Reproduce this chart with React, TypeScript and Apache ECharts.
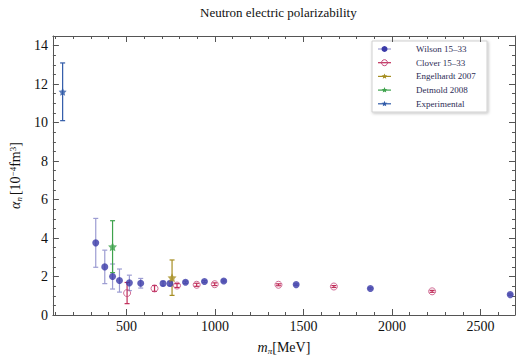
import React, { useEffect, useRef } from "react";
import * as echarts from "echarts";

const wilsonX = [327, 378, 422, 461, 517, 581, 707, 746, 834, 941, 1050, 1459, 1878, 2668];
const wilsonY = [3.75, 2.5, 2.0, 1.79, 1.67, 1.65, 1.64, 1.64, 1.7, 1.74, 1.77, 1.58, 1.38, 1.06];
const wilsonErr = [1.27, 0.87, 0.65, 0.6, 0.4, 0.25, 0.12, 0.12, 0.06, 0.05, 0.05, 0.04, 0.04, 0.04];
const cloverX = [504, 659, 786, 897, 999, 1359, 1672, 2227];
const cloverY = [1.14, 1.38, 1.53, 1.57, 1.6, 1.57, 1.48, 1.23];
const cloverErr = [0.55, 0.15, 0.1, 0.08, 0.07, 0.05, 0.05, 0.05];
const engelhardtX = [758];
const engelhardtY = [1.94];
const engelhardtErr = [0.92];
const detmoldX = [422];
const detmoldY = [3.55];
const detmoldErr = [1.35];
const expX = [140];
const expY = [11.6];
const expErr = [1.5];

const xMajor = [500, 1000, 1500, 2000, 2500];
const xMinor = [100, 200, 300, 400, 600, 700, 800, 900, 1100, 1200, 1300, 1400, 1600, 1700, 1800, 1900, 2100, 2200, 2300, 2400, 2600];
const yMajor = [0, 2, 4, 6, 8, 10, 12, 14];
const yMinor = [0.5, 1, 1.5, 2.5, 3, 3.5, 4.5, 5, 5.5, 6.5, 7, 7.5, 8.5, 9, 9.5, 10.5, 11, 11.5, 12.5, 13, 13.5];

const legendNames = ["Wilson 15\u201333", "Clover 15\u201333", "Engelhardt 2007", "Detmold 2008", "Experimental"];

const FONT = '"Liberation Serif", "DejaVu Serif", serif';
const FRAME = "#555555";

const C_WILSON = "#3a3aa8";
const C_WILSON_BAR = "#9c9cd2";
const C_CLOVER = "#c4487c";
const C_CLOVER_BAR = "#c02c58";
const C_ENG = "#a68e22";
const C_DET = "#3ea24c";
const C_EXP = "#2f5aa8";

const STAR = "path://M0,-10 L2.9,-4 L9.5,-3.1 L4.7,1.5 L5.9,8.1 L0,5 L-5.9,8.1 L-4.7,1.5 L-9.5,-3.1 L-2.9,-4 Z";

function zip3(x: number[], y: number[], e: number[]) {
  return x.map((v, i) => [v, y[i], e[i]]);
}

function errSeries(name: string, data: number[][], color: string) {
  return {
    type: "custom",
    name: name + " err",
    xAxisIndex: 0,
    yAxisIndex: 0,
    z: 2,
    silent: true,
    data,
    renderItem: (params: any, api: any) => {
      const x = api.value(0);
      const y = api.value(1);
      const e = api.value(2);
      const top = api.coord([x, y + e]);
      const bot = api.coord([x, y - e]);
      const w = 2.5;
      const st = { stroke: color, lineWidth: 1.2 };
      return {
        type: "group",
        children: [
          { type: "line", shape: { x1: top[0], y1: top[1], x2: bot[0], y2: bot[1] }, style: st },
          { type: "line", shape: { x1: top[0] - w, y1: top[1], x2: top[0] + w, y2: top[1] }, style: st },
          { type: "line", shape: { x1: bot[0] - w, y1: bot[1], x2: bot[0] + w, y2: bot[1] }, style: st },
        ],
      };
    },
  };
}

function starPoints(cx: number, cy: number, r: number) {
  const pts: number[][] = [];
  for (let i = 0; i < 10; i++) {
    const a = -Math.PI / 2 + (i * Math.PI) / 5;
    const rr = i % 2 === 0 ? r : r * 0.45;
    pts.push([cx + rr * Math.cos(a), cy + rr * Math.sin(a)]);
  }
  return pts;
}

export default function App() {
  const ref = useRef<HTMLDivElement>(null);
  useEffect(() => {
    if (!ref.current) return;
    const chart = echarts.init(ref.current, null, { renderer: "svg" });
    const xMin = 85;
    const xMax = 2695;
    const yMin = 0;
    const yMax = 14.5;

    const mkX = (pos: string, minor: boolean, show: boolean) => ({
      type: "value",
      position: pos,
      min: xMin,
      max: xMax,
      splitLine: { show: false },
      axisLine: { show: !minor, onZero: false, lineStyle: { color: FRAME, width: 1 } },
      axisTick: {
        show: true,
        inside: true,
        length: minor ? 3 : 6,
        customValues: minor ? xMinor : xMajor,
        lineStyle: { color: FRAME },
      },
      axisLabel: show
        ? { show: true, customValues: xMajor, formatter: (v: number) => String(v), color: "#111", fontFamily: FONT, fontSize: 14, margin: 4 }
        : { show: false },
    });
    const mkY = (pos: string, minor: boolean, show: boolean) => ({
      type: "value",
      position: pos,
      min: yMin,
      max: yMax,
      splitLine: { show: false },
      axisLine: { show: !minor, onZero: false, lineStyle: { color: FRAME, width: 1 } },
      axisTick: {
        show: true,
        inside: true,
        length: minor ? 3 : 6,
        customValues: minor ? yMinor : yMajor,
        lineStyle: { color: FRAME },
      },
      axisLabel: show
        ? { show: true, customValues: yMajor, formatter: (v: number) => String(v), color: "#111", fontFamily: FONT, fontSize: 14, margin: 5 }
        : { show: false },
    });

    const xAxes: any[] = [mkX("bottom", false, true), mkX("bottom", true, false), mkX("top", false, false), mkX("top", true, false)];
    xAxes[0].name = "{i|m}{sub|\u03c0}[MeV]";
    xAxes[0].nameLocation = "middle";
    xAxes[0].nameGap = 25;
    xAxes[0].nameTextStyle = {
      fontFamily: FONT,
      fontSize: 14,
      color: "#111",
      rich: {
        i: { fontFamily: FONT, fontSize: 14, fontStyle: "italic", color: "#111" },
        sub: { fontFamily: FONT, fontSize: 9, fontStyle: "italic", color: "#111", verticalAlign: "bottom", padding: [6, 0, 0, 0] },
      },
    };
    const yAxes: any[] = [mkY("left", false, true), mkY("left", true, false), mkY("right", false, false), mkY("right", true, false)];
    yAxes[0].name = "{i|\u03b1}{sub|n}[10{sup|\u22124}fm{sup|3}]";
    yAxes[0].nameLocation = "middle";
    yAxes[0].nameGap = 23;
    yAxes[0].nameTextStyle = {
      fontFamily: FONT,
      fontSize: 14,
      color: "#111",
      rich: {
        i: { fontFamily: FONT, fontSize: 14, fontStyle: "italic", color: "#111" },
        sub: { fontFamily: FONT, fontSize: 9, fontStyle: "italic", color: "#111", verticalAlign: "bottom", padding: [6, 2, 0, 0] },
        sup: { fontFamily: FONT, fontSize: 9, color: "#111", verticalAlign: "top", padding: [0, 0, 6, 0] },
      },
    };

    const legendColors = [
      { line: C_WILSON_BAR, mark: "wilson" },
      { line: C_CLOVER_BAR, mark: "clover" },
      { line: C_ENG, mark: "eng" },
      { line: C_DET, mark: "det" },
      { line: C_EXP, mark: "exp" },
    ];
    const legendChildren: any[] = [
      {
        type: "rect",
        shape: { x: 372, y: 41, width: 115, height: 71 },
        style: { fill: "#fff", stroke: "#d0d0d0", lineWidth: 1, shadowBlur: 3, shadowColor: "rgba(0,0,0,0.25)", shadowOffsetX: 1, shadowOffsetY: 1 },
      },
    ];
    legendNames.forEach((n, i) => {
      const cy = 49 + i * 13.7;
      const lc = legendColors[i];
      legendChildren.push({
        type: "line",
        shape: { x1: 378, y1: cy, x2: 391, y2: cy },
        style: { stroke: lc.line, lineWidth: 1.2 },
      });
      if (lc.mark === "wilson") {
        legendChildren.push({ type: "circle", shape: { cx: 384.5, cy, r: 3 }, style: { fill: C_WILSON } });
      } else if (lc.mark === "clover") {
        legendChildren.push({ type: "circle", shape: { cx: 384.5, cy, r: 3 }, style: { fill: "none", stroke: C_CLOVER, lineWidth: 1 } });
      } else {
        const col = lc.mark === "eng" ? C_ENG : lc.mark === "det" ? C_DET : C_EXP;
        legendChildren.push({ type: "polygon", shape: { points: starPoints(384.5, cy, 3) }, style: { fill: col } });
      }
      legendChildren.push({
        type: "text",
        x: 416,
        y: cy,
        style: { text: n, fontFamily: FONT, fontSize: 9, fill: "#2c2c55", verticalAlign: "middle", textAlign: "left" },
      });
    });

    chart.setOption({
      animation: false,
      backgroundColor: "#fff",
      title: {
        text: "Neutron electric polarizability",
        left: 195,
        top: 1,
        textStyle: { fontFamily: FONT, fontSize: 13, fontWeight: "normal", color: "#111" },
      },
      grid: { left: 45, right: 1, top: 36, bottom: 39, containLabel: false },
      xAxis: xAxes,
      yAxis: yAxes,
      graphic: [{ type: "group", children: legendChildren, z: 100 }],
      series: [
        errSeries("Wilson 15\u201333", zip3(wilsonX, wilsonY, wilsonErr), C_WILSON_BAR),
        errSeries("Clover 15\u201333", zip3(cloverX, cloverY, cloverErr), C_CLOVER_BAR),
        errSeries("Engelhardt 2007", zip3(engelhardtX, engelhardtY, engelhardtErr), C_ENG),
        errSeries("Detmold 2008", zip3(detmoldX, detmoldY, detmoldErr), C_DET),
        errSeries("Experimental", zip3(expX, expY, expErr), C_EXP),
        {
          type: "scatter",
          name: "Wilson 15\u201333",
          z: 3,
          symbol: "circle",
          symbolSize: 7,
          itemStyle: { color: C_WILSON },
          data: wilsonX.map((v, i) => [v, wilsonY[i]]),
        },
        {
          type: "scatter",
          name: "Clover 15\u201333",
          z: 3,
          symbol: "circle",
          symbolSize: 7,
          itemStyle: { color: "rgba(255,255,255,0)", borderColor: C_CLOVER, borderWidth: 1 },
          data: cloverX.map((v, i) => [v, cloverY[i]]),
        },
        {
          type: "scatter",
          name: "Engelhardt 2007",
          z: 3,
          symbol: STAR,
          symbolSize: 9,
          itemStyle: { color: C_ENG },
          data: engelhardtX.map((v, i) => [v, engelhardtY[i]]),
        },
        {
          type: "scatter",
          name: "Detmold 2008",
          z: 3,
          symbol: STAR,
          symbolSize: 9,
          itemStyle: { color: C_DET },
          data: detmoldX.map((v, i) => [v, detmoldY[i]]),
        },
        {
          type: "scatter",
          name: "Experimental",
          z: 3,
          symbol: STAR,
          symbolSize: 8,
          itemStyle: { color: C_EXP },
          data: expX.map((v, i) => [v, expY[i]]),
        },
      ],
    } as any);
    return () => chart.dispose();
  }, []);
  return <div ref={ref} style={{ width: 516, height: 360, position: "absolute", left: 0, top: 0 }} />;
}
